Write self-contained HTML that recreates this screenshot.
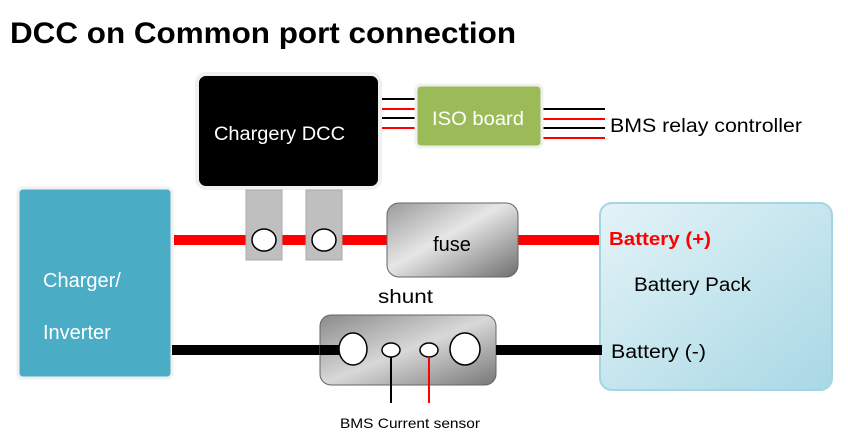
<!DOCTYPE html>
<html><head><style>body{margin:0;background:#fff}svg{display:block}text{font-family:"Liberation Sans",sans-serif}</style></head><body>
<svg width="848" height="445" viewBox="0 0 848 445">
<defs>
<linearGradient id="g1" x1="0" y1="0" x2="1" y2="1"><stop offset="0" stop-color="#9a9a9a"/><stop offset="0.45" stop-color="#e6e6e6"/><stop offset="1" stop-color="#6e6e6e"/></linearGradient>
<linearGradient id="g2" x1="0" y1="0" x2="1" y2="1"><stop offset="0" stop-color="#8a8a8a"/><stop offset="0.5" stop-color="#d8d8d8"/><stop offset="1" stop-color="#777"/></linearGradient>
<linearGradient id="g3" x1="0" y1="0" x2="1" y2="1"><stop offset="0" stop-color="#e4f3f7"/><stop offset="1" stop-color="#a8d8e5"/></linearGradient>
</defs>
<text x="10" y="43" font-size="30" font-weight="bold" fill="#000" textLength="506" lengthAdjust="spacingAndGlyphs">DCC on Common port connection</text>
<line x1="372" y1="99" x2="415" y2="99" stroke="#000" stroke-width="2"/>
<line x1="365" y1="109" x2="415" y2="109" stroke="red" stroke-width="2"/>
<line x1="372" y1="118" x2="415" y2="118" stroke="#000" stroke-width="2"/>
<line x1="365" y1="128" x2="415" y2="128" stroke="red" stroke-width="2"/>
<line x1="540" y1="109" x2="605" y2="109" stroke="#000" stroke-width="2"/>
<line x1="540" y1="119" x2="605" y2="119" stroke="red" stroke-width="2"/>
<line x1="540" y1="128" x2="605" y2="128" stroke="#000" stroke-width="2"/>
<line x1="540" y1="138" x2="605" y2="138" stroke="red" stroke-width="2"/>
<rect x="197" y="74" width="183" height="114" rx="9" fill="#000" stroke="#f0f0f0" stroke-width="4"/>
<text x="214" y="140" font-size="19" fill="#fff" textLength="131" lengthAdjust="spacingAndGlyphs">Chargery DCC</text>
<rect x="416" y="85" width="126" height="62" rx="5" fill="#9bbb59" stroke="#f0f0f0" stroke-width="3"/>
<text x="432" y="125" font-size="19" fill="#fff" textLength="92" lengthAdjust="spacingAndGlyphs">ISO board</text>
<text x="610" y="132" font-size="19" fill="#000" textLength="192" lengthAdjust="spacingAndGlyphs">BMS relay controller</text>
<rect x="174" y="235" width="428" height="10" fill="red"/>
<rect x="246" y="190" width="36" height="70" fill="#bfbfbf" stroke="#aaa"/>
<rect x="306" y="190" width="36" height="70" fill="#bfbfbf" stroke="#aaa"/>
<ellipse cx="264" cy="240" rx="12" ry="11" fill="#fff" stroke="#000" stroke-width="1.5"/>
<ellipse cx="324" cy="240" rx="12" ry="11" fill="#fff" stroke="#000" stroke-width="1.5"/>
<rect x="387" y="203" width="131" height="74" rx="12" fill="url(#g1)" stroke="#666"/>
<text x="452" y="251" font-size="20" fill="#000" text-anchor="middle">fuse</text>
<rect x="18" y="188" width="154" height="190" rx="5" fill="#4bacc6" stroke="#f0f0f0" stroke-width="3"/>
<text x="43" y="287" font-size="20" fill="#fff">Charger/</text>
<text x="43" y="339" font-size="20" fill="#fff">Inverter</text>
<rect x="600" y="203" width="232" height="187" rx="12" fill="url(#g3)" stroke="#a5d5e2" stroke-width="2"/>
<text x="609" y="245" font-size="18" font-weight="bold" fill="red" textLength="102" lengthAdjust="spacingAndGlyphs">Battery (+)</text>
<text x="634" y="291" font-size="19" fill="#000" textLength="117" lengthAdjust="spacingAndGlyphs">Battery Pack</text>
<text x="611" y="358" font-size="19" fill="#000" textLength="95" lengthAdjust="spacingAndGlyphs">Battery (-)</text>
<text x="378" y="303" font-size="19" fill="#000" textLength="55" lengthAdjust="spacingAndGlyphs">shunt</text>
<rect x="172" y="345" width="176" height="10" fill="#000"/>
<rect x="320" y="315" width="176" height="70" rx="11" fill="url(#g2)" stroke="#666"/>
<rect x="496" y="345" width="106" height="10" fill="#000"/>
<rect x="320" y="345" width="28" height="10" fill="#000"/>
<ellipse cx="353" cy="349" rx="14" ry="16" fill="#fff" stroke="#000" stroke-width="1.5"/>
<ellipse cx="391" cy="350" rx="9" ry="7" fill="#fff" stroke="#000" stroke-width="1.5"/>
<ellipse cx="429" cy="350" rx="9" ry="7" fill="#fff" stroke="#000" stroke-width="1.5"/>
<ellipse cx="465" cy="349" rx="15" ry="16" fill="#fff" stroke="#000" stroke-width="1.5"/>
<line x1="391" y1="357" x2="391" y2="403" stroke="#000" stroke-width="2"/>
<line x1="429" y1="357" x2="429" y2="403" stroke="red" stroke-width="2"/>
<text x="340" y="428" font-size="14" fill="#000" textLength="140" lengthAdjust="spacingAndGlyphs">BMS Current sensor</text>
</svg>
</body></html>
